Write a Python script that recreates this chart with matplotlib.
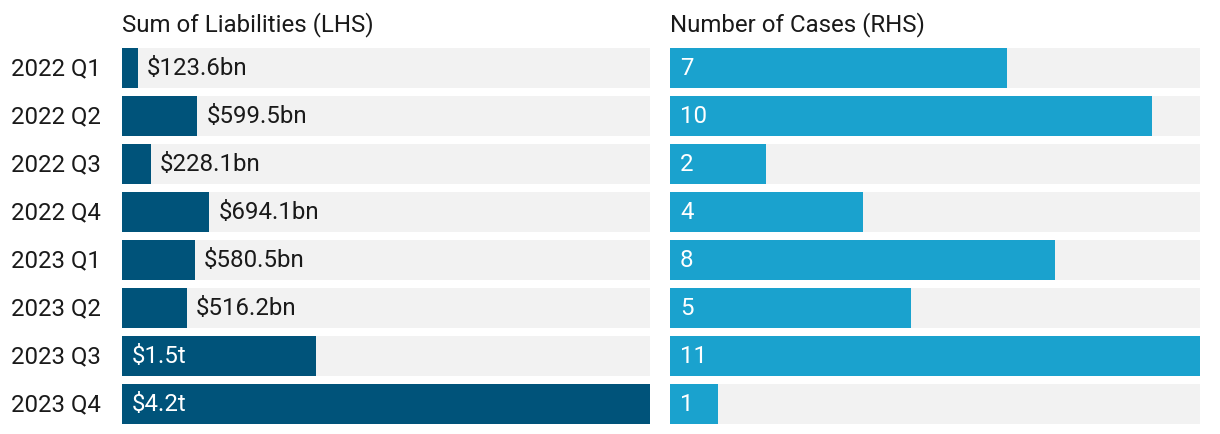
import matplotlib.pyplot as plt
from matplotlib.transforms import offset_copy

plt.rcParams['font.family'] = ['Roboto', 'DejaVu Sans']

quarters = ['2022 Q1', '2022 Q2', '2022 Q3', '2022 Q4',
            '2023 Q1', '2023 Q2', '2023 Q3', '2023 Q4']
liabilities_bn = [123.6, 599.5, 228.1, 694.1, 580.5, 516.2, 1540, 4200]
liability_labels = ['$123.6bn', '$599.5bn', '$228.1bn', '$694.1bn',
                    '$580.5bn', '$516.2bn', '$1.5t', '$4.2t']
cases = [7, 10, 2, 4, 8, 5, 11, 1]

dark = '#00537a'
light = '#1aa2ce'
grey = '#f2f2f2'
fs = 17.3


def main():
    fig = plt.figure(figsize=(12.2, 4.34), dpi=100)
    bottom = 1 - 428 / 434
    height = 384 / 434
    ax1 = fig.add_axes([122 / 1220, bottom, 528 / 1220, height])
    ax2 = fig.add_axes([670 / 1220, bottom, 530 / 1220, height])

    y = list(range(len(quarters)))
    h = 40 / 48

    # left panel
    lmax = max(liabilities_bn)
    ax1.barh(y, [lmax] * len(y), height=h, color=grey)
    ax1.barh(y, liabilities_bn, height=h, color=dark)
    ax1.set_xlim(0, lmax)
    for yi, v, lab in zip(y, liabilities_bn, liability_labels):
        if v > 1000:
            tr = offset_copy(ax1.transData, fig=fig, x=10, y=2, units='dots')
            ax1.text(0, yi, lab, transform=tr, color='white', fontsize=fs,
                     va='center_baseline', ha='left')
        else:
            tr = offset_copy(ax1.transData, fig=fig, x=9, y=2, units='dots')
            ax1.text(v, yi, lab, transform=tr, color='#1a1a1a', fontsize=fs,
                     va='center_baseline', ha='left')

    # right panel
    rmax = max(cases)
    ax2.barh(y, [rmax] * len(y), height=h, color=grey)
    ax2.barh(y, cases, height=h, color=light)
    ax2.set_xlim(0, rmax)
    tr = offset_copy(ax2.transData, fig=fig, x=10, y=2, units='dots')
    for yi, v in zip(y, cases):
        ax2.text(0, yi, str(v), transform=tr, color='white', fontsize=fs,
                 va='center_baseline', ha='left')

    for ax in (ax1, ax2):
        ax.set_ylim(len(y) - 0.5, -0.5)
        ax.set_xticks([])
        for s in ax.spines.values():
            s.set_visible(False)
        ax.tick_params(axis='y', length=0)
    ax2.set_yticks([])

    # quarter labels on the left
    tr = offset_copy(ax1.get_yaxis_transform(), fig=fig, x=-21, y=2, units='dots')
    for yi, q in zip(y, quarters):
        ax1.text(0, yi, q, transform=tr, color='#1a1a1a', fontsize=fs,
                 va='center_baseline', ha='right')
    ax1.set_yticks([])

    fig.text(122 / 1220, 1 - 22 / 434, 'Sum of Liabilities (LHS)',
             fontsize=fs, color='#1a1a1a', va='center_baseline', ha='left')
    fig.text(670 / 1220, 1 - 22 / 434, 'Number of Cases (RHS)',
             fontsize=fs, color='#1a1a1a', va='center_baseline', ha='left')

    fig.savefig('out.png', dpi=100)


if __name__ == '__main__':
    main()
